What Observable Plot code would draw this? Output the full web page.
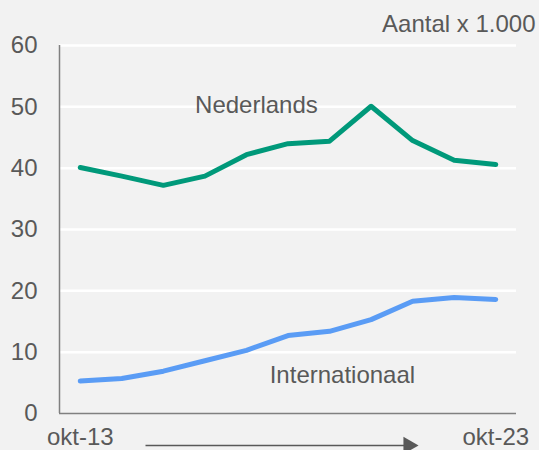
<!DOCTYPE html>
<html>
<head>
<meta charset="utf-8">
<script src="https://cdn.jsdelivr.net/npm/d3@7"></script>
<script src="https://cdn.jsdelivr.net/npm/@observablehq/plot@0.6"></script>
<style>
  html, body { margin: 0; padding: 0; background: #f2f2f2; }
  #chart svg { display: block; }
</style>
</head>
<body>
<div id="chart"></div>
<script>
// Data: Oct 2013 .. Oct 2023 (yearly), counts x 1,000
const periods = ["okt-13","okt-14","okt-15","okt-16","okt-17","okt-18","okt-19","okt-20","okt-21","okt-22","okt-23"];
const nederlands = [40.1, 38.7, 37.2, 38.7, 42.2, 44.0, 44.4, 50.1, 44.5, 41.3, 40.6];
const internationaal = [5.3, 5.7, 6.9, 8.6, 10.3, 12.7, 13.4, 15.3, 18.3, 18.9, 18.6];
const xTickLabels = ["okt-13", "okt-23"];
const yTicks = [0, 10, 20, 30, 40, 50, 60];

const green = "#00997a";
const blue = "#5a9cf5";
const textColor = "#595959";
const axisColor = "#808080";

const rows = [];
periods.forEach((p, i) => {
  rows.push({i, period: p, serie: "Nederlands", value: nederlands[i]});
  rows.push({i, period: p, serie: "Internationaal", value: internationaal[i]});
});

const xDomain = [-0.5, periods.length - 0.5];
const labelIdx = {}; periods.forEach((p, i) => labelIdx[p] = i);

const chart = Plot.plot({
  width: 539,
  height: 450,
  marginLeft: 59,
  marginRight: 23,
  marginTop: 45,
  marginBottom: 37,
  style: {background: "#f2f2f2", fontFamily: "'Liberation Sans', Arial, sans-serif", fontSize: "24px", color: textColor, overflow: "visible"},
  x: {domain: xDomain, axis: null},
  y: {domain: [0, 60], axis: null},
  marks: [
    Plot.gridY(yTicks.filter(d => d > 0), {stroke: "#ffffff", strokeOpacity: 1, strokeWidth: 2.5}),
    Plot.ruleY([0], {stroke: axisColor, strokeWidth: 1.5}),
    Plot.ruleX([xDomain[0]], {stroke: axisColor, strokeWidth: 1.5}),
    Plot.axisY({ticks: yTicks, tickSize: 0, tickPadding: 22, fontSize: 24, fill: textColor}),
    Plot.axisX({ticks: xTickLabels.map(l => labelIdx[l]), tickFormat: i => periods[i], tickSize: 0, tickPadding: 14, fontSize: 24, fill: textColor}),
    Plot.line(rows.filter(d => d.serie === "Nederlands"), {x: "i", y: "value", stroke: green, strokeWidth: 5, strokeLinejoin: "round", strokeLinecap: "round"}),
    Plot.line(rows.filter(d => d.serie === "Internationaal"), {x: "i", y: "value", stroke: blue, strokeWidth: 5, strokeLinejoin: "round", strokeLinecap: "round"}),
    Plot.text(["Nederlands"], {x: 4.24, y: 50.2, text: d => d, fontSize: 24, fill: textColor}),
    Plot.text(["Internationaal"], {x: 6.31, y: 6.2, text: d => d, fontSize: 24, fill: textColor}),
    Plot.text(["Aantal x 1.000"], {frameAnchor: "top-right", lineAnchor: "middle", dx: 19, dy: -21.5, text: d => d, fontSize: 24, fill: textColor, textAnchor: "end"}),
    Plot.link([{x1: 1.57, x2: 7.9, y: -5.2}], {x1: "x1", x2: "x2", y1: "y", y2: "y", stroke: textColor, strokeWidth: 1.5, clip: false}),
    Plot.dot([{x: 7.9, y: -5.2}], {x: "x", y: "y", symbol: "triangle", r: 6.5, rotate: 90, fill: textColor, stroke: "none"})
  ]
});
document.getElementById("chart").appendChild(chart);
</script>
</body>
</html>
